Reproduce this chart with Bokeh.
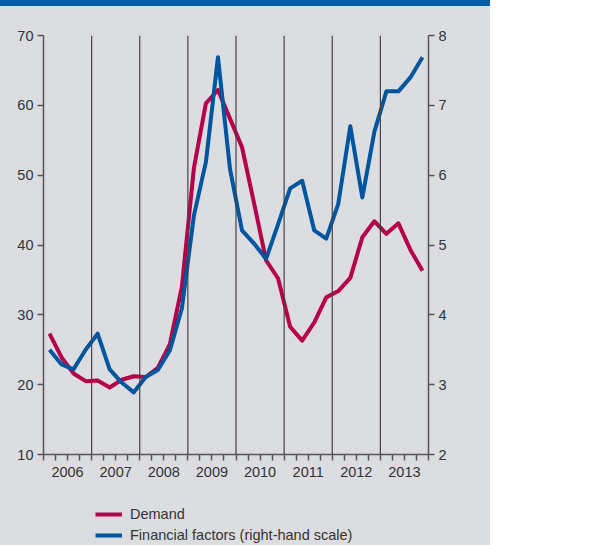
from bokeh.plotting import figure
from bokeh.layouts import column
from bokeh.models import Range1d, LinearAxis, FixedTicker, Span, Legend, LegendItem, Div
from bokeh.embed import file_html
from bokeh.resources import INLINE

years = [2006, 2007, 2008, 2009, 2010, 2011, 2012, 2013]
year_labels = ["2006", "2007", "2008", "2009", "2010", "2011", "2012", "2013"]

demand = [27.3, 23.9, 21.6, 20.5, 20.6, 19.6, 20.7, 21.2,
          21.1, 22.4, 25.8, 34.0, 51.0, 60.3, 62.2, 58.1,
          54.0, 46.0, 37.8, 35.2, 28.3, 26.3, 28.9, 32.5,
          33.4, 35.3, 41.1, 43.4, 41.6, 43.1, 39.3, 36.3]

financial = [3.50, 3.29, 3.22, 3.50, 3.73, 3.22, 3.03, 2.89,
             3.11, 3.21, 3.49, 4.09, 5.42, 6.19, 7.69, 6.09,
             5.21, 5.02, 4.80, 5.30, 5.81, 5.92, 5.21, 5.09,
             5.59, 6.70, 5.68, 6.62, 7.20, 7.20, 7.40, 7.69]

series_names = ["Demand", "Financial factors (right-hand scale)"]

quarters = [y + (q + 0.5) / 4 for y in years for q in range(4)]

BG = "#dcdde0"
BAR = "#005ea8"
RED = "#b5004a"
BLUE = "#00559f"
TXT = "#333333"
FONT = "Liberation Sans"

# top colour bar
bar = Div(text="", width=490, height=6, margin=0,
          styles={"background-color": BAR, "width": "490px", "height": "6px"})

p = figure(width=490, height=485, output_backend="svg", toolbar_location=None,
           x_range=Range1d(2006, 2014), y_range=Range1d(10, 70),
           min_border_left=43, min_border_right=62, min_border_top=29,
           min_border_bottom=37, background_fill_color=BG, border_fill_color=BG,
           outline_line_color=None, x_axis_location=None, y_axis_location=None)
p.extra_y_ranges = {"right": Range1d(2, 8)}
p.xgrid.visible = False
p.ygrid.visible = False

yl = LinearAxis(ticker=FixedTicker(ticks=[10, 20, 30, 40, 50, 60, 70]))
yr = LinearAxis(y_range_name="right", ticker=FixedTicker(ticks=[2, 3, 4, 5, 6, 7, 8]))
xb = LinearAxis(ticker=FixedTicker(ticks=[y + 0.5 for y in years],
                                   minor_ticks=[2006 + i / 4 for i in range(33)]))
xb.major_label_overrides = {y + 0.5: l for y, l in zip(years, year_labels)}

for ax in (yl, yr, xb):
    ax.axis_line_color = "#555555"
    ax.axis_line_width = 1.5
    ax.major_tick_line_color = "#555555"
    ax.major_tick_line_width = 1.5
    ax.major_tick_in = 0
    ax.major_tick_out = 6
    ax.minor_tick_line_color = None
    ax.major_label_text_font = FONT
    ax.major_label_text_font_size = "14.5px"
    ax.major_label_text_color = TXT
    ax.major_label_standoff = 4

xb.major_tick_out = 0
xb.minor_tick_line_color = "#555555"
xb.minor_tick_line_width = 1.5
xb.minor_tick_in = 0
xb.minor_tick_out = 6
xb.major_label_standoff = 6

p.add_layout(yl, "left")
p.add_layout(yr, "right")
p.add_layout(xb, "below")

for y in years[1:]:
    p.add_layout(Span(location=y, dimension="height", line_color="#444444", line_width=1.2))

p.line(quarters, demand, line_color=RED, line_width=4, line_join="round")
p.line(quarters, financial, y_range_name="right", line_color=BLUE, line_width=4,
       line_join="round")

# legend strip
p2 = figure(width=490, height=54, output_backend="svg", toolbar_location=None,
            x_range=Range1d(0, 1), y_range=Range1d(0, 1),
            min_border_left=0, min_border_right=0, min_border_top=0, min_border_bottom=0,
            background_fill_alpha=0, border_fill_alpha=0, outline_line_color=None,
            x_axis_location=None, y_axis_location=None)
p2.xgrid.visible = False
p2.ygrid.visible = False
l1 = p2.line([5, 6], [5, 6], line_color=RED, line_width=4)
l2 = p2.line([5, 6], [5, 6], line_color=BLUE, line_width=4)

legend = Legend(items=[LegendItem(label=series_names[0], renderers=[l1]),
                       LegendItem(label=series_names[1], renderers=[l2])],
                location=(52, 0), padding=0, margin=0, spacing=1,
                glyph_width=27, glyph_height=20, label_height=20, label_standoff=8,
                label_text_font=FONT, label_text_font_size="14.5px", label_text_color=TXT,
                background_fill_alpha=0, border_line_color=None)
p2.add_layout(legend, "center")

layout = column(bar, p, p2, spacing=0, styles={"background-color": BG})
open("out.html", "w").write(file_html(layout, INLINE))
